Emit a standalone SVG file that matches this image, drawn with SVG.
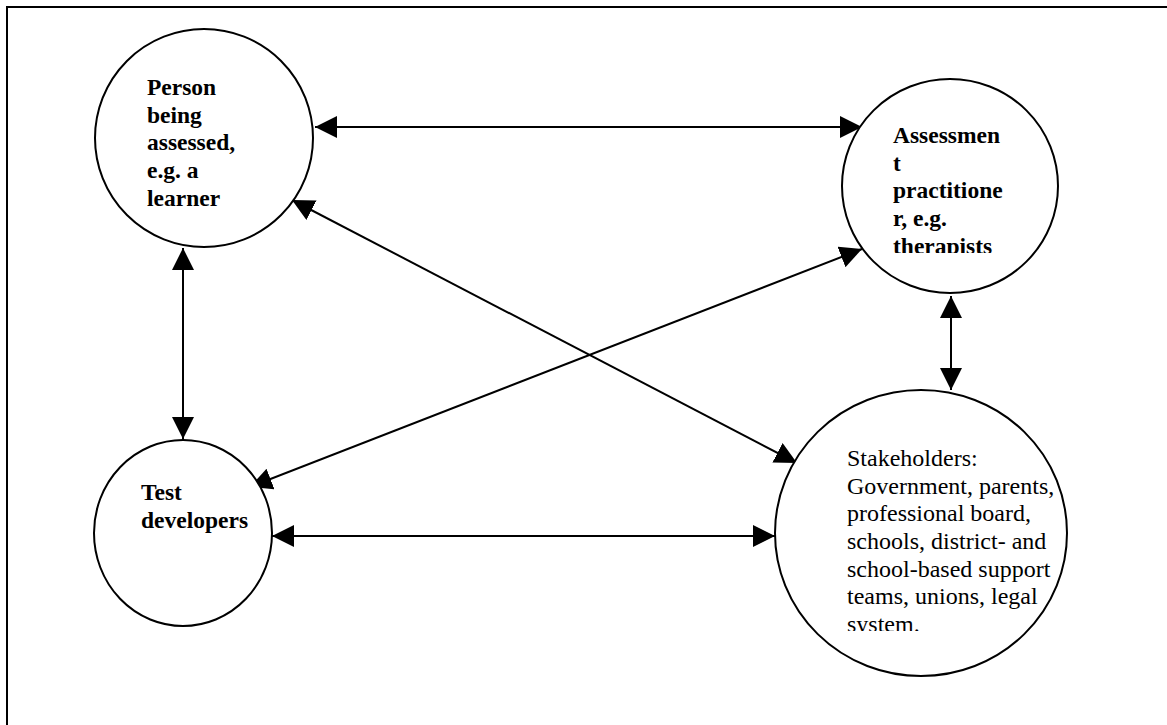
<svg xmlns="http://www.w3.org/2000/svg" width="1167" height="725" viewBox="0 0 1167 725">
<style>
.node{fill:#fff;stroke:#000;stroke-width:2}
.b{font-family:"Liberation Serif","Times New Roman",serif;font-weight:bold;font-size:23.5px;fill:#000}
.r{font-family:"Liberation Serif","Times New Roman",serif;font-size:24px;fill:#000}
.c{stroke:#000;stroke-width:2;fill:none;marker-start:url(#ah);marker-end:url(#ah)}
</style>
<defs>
<marker id="ah" markerUnits="userSpaceOnUse" markerWidth="22" markerHeight="22" refX="20" refY="10" orient="auto-start-reverse" viewBox="0 0 20 20">
<path d="M0,0 L20,10 L0,20 Z" fill="#000"/>
</marker>
<clipPath id="clipA"><rect x="840" y="60" width="220" height="193"/></clipPath>
<clipPath id="clipS"><rect x="780" y="380" width="300" height="251"/></clipPath>
</defs>
<rect x="7" y="7" width="1200" height="800" fill="#fff" stroke="#000" stroke-width="2"/>
<g id="connectors">
<line class="c" x1="315" y1="127" x2="862" y2="127"/>
<line class="c" x1="292" y1="200" x2="797" y2="463"/>
<line class="c" x1="862" y1="249" x2="250" y2="487"/>
<line class="c" x1="183" y1="248" x2="183" y2="439"/>
<line class="c" x1="951" y1="296" x2="951" y2="390"/>
<line class="c" x1="272" y1="536" x2="775" y2="536"/>
</g>
<g id="person">
<ellipse class="node" cx="204" cy="138" rx="109" ry="109"/>
<text class="b" x="147" y="95">Person</text>
<text class="b" x="147" y="123">being</text>
<text class="b" x="147" y="150">assessed,</text>
<text class="b" x="147" y="178">e.g. a</text>
<text class="b" x="147" y="206">learner</text>
</g>
<g id="practitioner">
<ellipse class="node" cx="950" cy="186" rx="108" ry="107"/>
<g clip-path="url(#clipA)">
<text class="b" x="893" y="143">Assessmen</text>
<text class="b" x="893" y="171">t</text>
<text class="b" x="893" y="198">practitione</text>
<text class="b" x="893" y="226">r, e.g.</text>
<text class="b" x="893" y="254">therapists</text>
</g>
</g>
<g id="developers">
<ellipse class="node" cx="183" cy="533" rx="89" ry="93"/>
<text class="b" x="141" y="500">Test</text>
<text class="b" x="141" y="528">developers</text>
</g>
<g id="stakeholders">
<ellipse class="node" cx="921" cy="533" rx="146" ry="143"/>
<g clip-path="url(#clipS)">
<text class="r" x="847" y="466">Stakeholders:</text>
<text class="r" x="847" y="494">Government, parents,</text>
<text class="r" x="847" y="521">professional board,</text>
<text class="r" x="847" y="549">schools, district- and</text>
<text class="r" x="847" y="577">school-based support</text>
<text class="r" x="847" y="604">teams, unions, legal</text>
<text class="r" x="847" y="632">system.</text>
</g>
</g>
</svg>
